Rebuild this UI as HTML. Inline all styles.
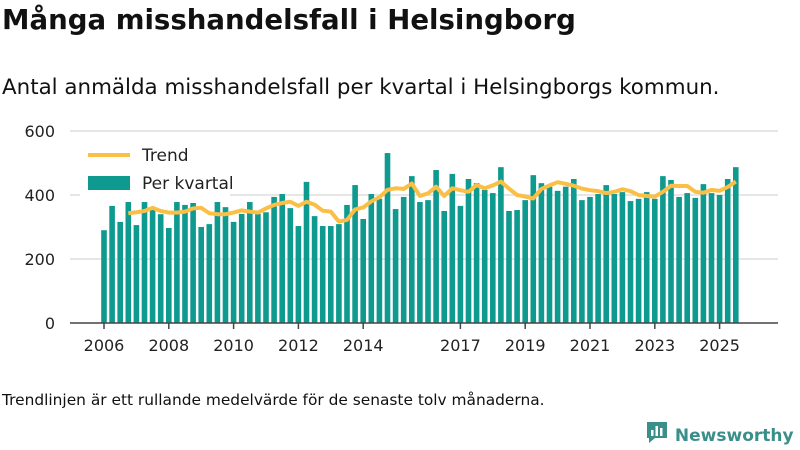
<!DOCTYPE html>
<html><head><meta charset="utf-8"><style>
body{margin:0;width:800px;height:450px;background:#fff;font-family:"DejaVu Sans","Liberation Sans",sans-serif;overflow:hidden;position:relative;color:#111}
#title{position:absolute;left:2px;top:3px;font-size:27.6px;font-weight:bold;margin:0;white-space:nowrap}
#sub{position:absolute;left:2px;top:75px;font-size:21.4px;white-space:nowrap}
#foot{position:absolute;left:2px;top:391px;font-size:15.4px;white-space:nowrap}
#logo{position:absolute;left:645px;top:420px;font-size:17px;color:#3a8f8a;font-weight:bold;white-space:nowrap;width:160px}
</style></head><body>
<div id="title">Många misshandelsfall i Helsingborg</div>
<div id="sub">Antal anmälda misshandelsfall per kvartal i Helsingborgs kommun.</div>
<svg id="chart" width="800" height="450" style="position:absolute;left:0;top:0"></svg>
<div id="foot">Trendlinjen är ett rullande medelvärde för de senaste tolv månaderna.</div>
<div id="logo"><svg width="24" height="26" style="vertical-align:-5px"><path d="M2 2h20v16h-12l-6 5v-5h-2z" fill="#3a8f8a"/><rect x="6" y="10" width="2.5" height="6" fill="#fff"/><rect x="10.5" y="6" width="2.5" height="10" fill="#fff"/><rect x="15" y="8" width="2.5" height="8" fill="#fff"/></svg> Newsworthy</div>
<script>
const startYear = 2006;
const barValues = [290,366,316,378,306,378,355,340,297,378,369,375,300,309,378,362,316,341,378,341,346,394,403,359,303,441,334,303,303,309,369,431,325,403,388,531,356,394,459,378,384,478,350,466,366,450,437,416,406,487,350,353,384,462,437,426,413,426,450,384,394,403,431,403,409,381,388,409,388,459,447,394,406,391,434,406,400,450,487];
const trendStart = 3;
const trendValues = [343,346,350,360,350,345,345,348,358,360,343,340,340,345,352,348,345,358,369,375,379,366,379,370,351,348,317,322,355,361,380,393,416,421,419,436,397,405,426,397,421,415,410,431,421,430,442,420,400,395,389,419,430,440,435,429,420,415,412,406,410,418,412,400,397,395,410,429,428,428,410,407,416,413,425,442];
const yTicks = [0,200,400,600];
const xTickYears = [2006,2008,2010,2012,2014,2017,2019,2021,2023,2025];
const svg = document.getElementById('chart');
const NS = 'http://www.w3.org/2000/svg';
const y = v => 323 - v * 0.32;
const xq = i => 104 + i * 8.1;
const xy = yr => 104 + (yr - startYear) * 32.4;
function mk(tag, attrs){const e=document.createElementNS(NS,tag);for(const k in attrs)e.setAttribute(k,attrs[k]);svg.appendChild(e);return e;}
yTicks.forEach(t=>{
  if(t>0){const g=mk('line',{x1:70,x2:778,y1:y(t),y2:y(t),stroke:'#ddd','stroke-width':1.5});
  
  }
  const l=mk('text',{x:55,y:y(t)+6,'text-anchor':'end','font-size':16,fill:'#222','font-family':'DejaVu Sans, Liberation Sans, sans-serif'});
  l.textContent=t;
  
  
});
barValues.forEach((v,i)=>{
  const r=mk('rect',{x:xq(i)-2.8,y:y(v),width:5.6,height:323-y(v),fill:'#0e9a8f'});
  
  
});
const pts=trendValues.map((v,i)=>xq(i+trendStart)+','+y(v)).join(' ');
const tl=mk('polyline',{points:pts,fill:'none',stroke:'#fbbf45','stroke-width':4,'stroke-linejoin':'round'});


const ax=mk('line',{x1:70,x2:778,y1:323,y2:323,stroke:'#444','stroke-width':1.5});


xTickYears.forEach(yr=>{
  const t=mk('line',{x1:xy(yr),x2:xy(yr),y1:323,y2:329,stroke:'#444','stroke-width':1.5});
  
  
  const l=mk('text',{x:xy(yr),y:351,'text-anchor':'middle','font-size':16,fill:'#222','font-family':'DejaVu Sans, Liberation Sans, sans-serif'});
  l.textContent=yr;
  
  
});
const bg=mk('rect',{x:80,y:142,width:150,height:56,fill:'#fff'});


const l1=mk('line',{x1:88,x2:130,y1:155,y2:155,stroke:'#fbbf45','stroke-width':4});


const t1=mk('text',{x:142,y:161,'font-size':17,fill:'#222','font-family':'DejaVu Sans, Liberation Sans, sans-serif'});t1.textContent='Trend';


const s2=mk('rect',{x:88,y:176,width:42,height:14,fill:'#0e9a8f'});


const t2=mk('text',{x:142,y:189,'font-size':17,fill:'#222','font-family':'DejaVu Sans, Liberation Sans, sans-serif'});t2.textContent='Per kvartal';


</script>
</body></html>
